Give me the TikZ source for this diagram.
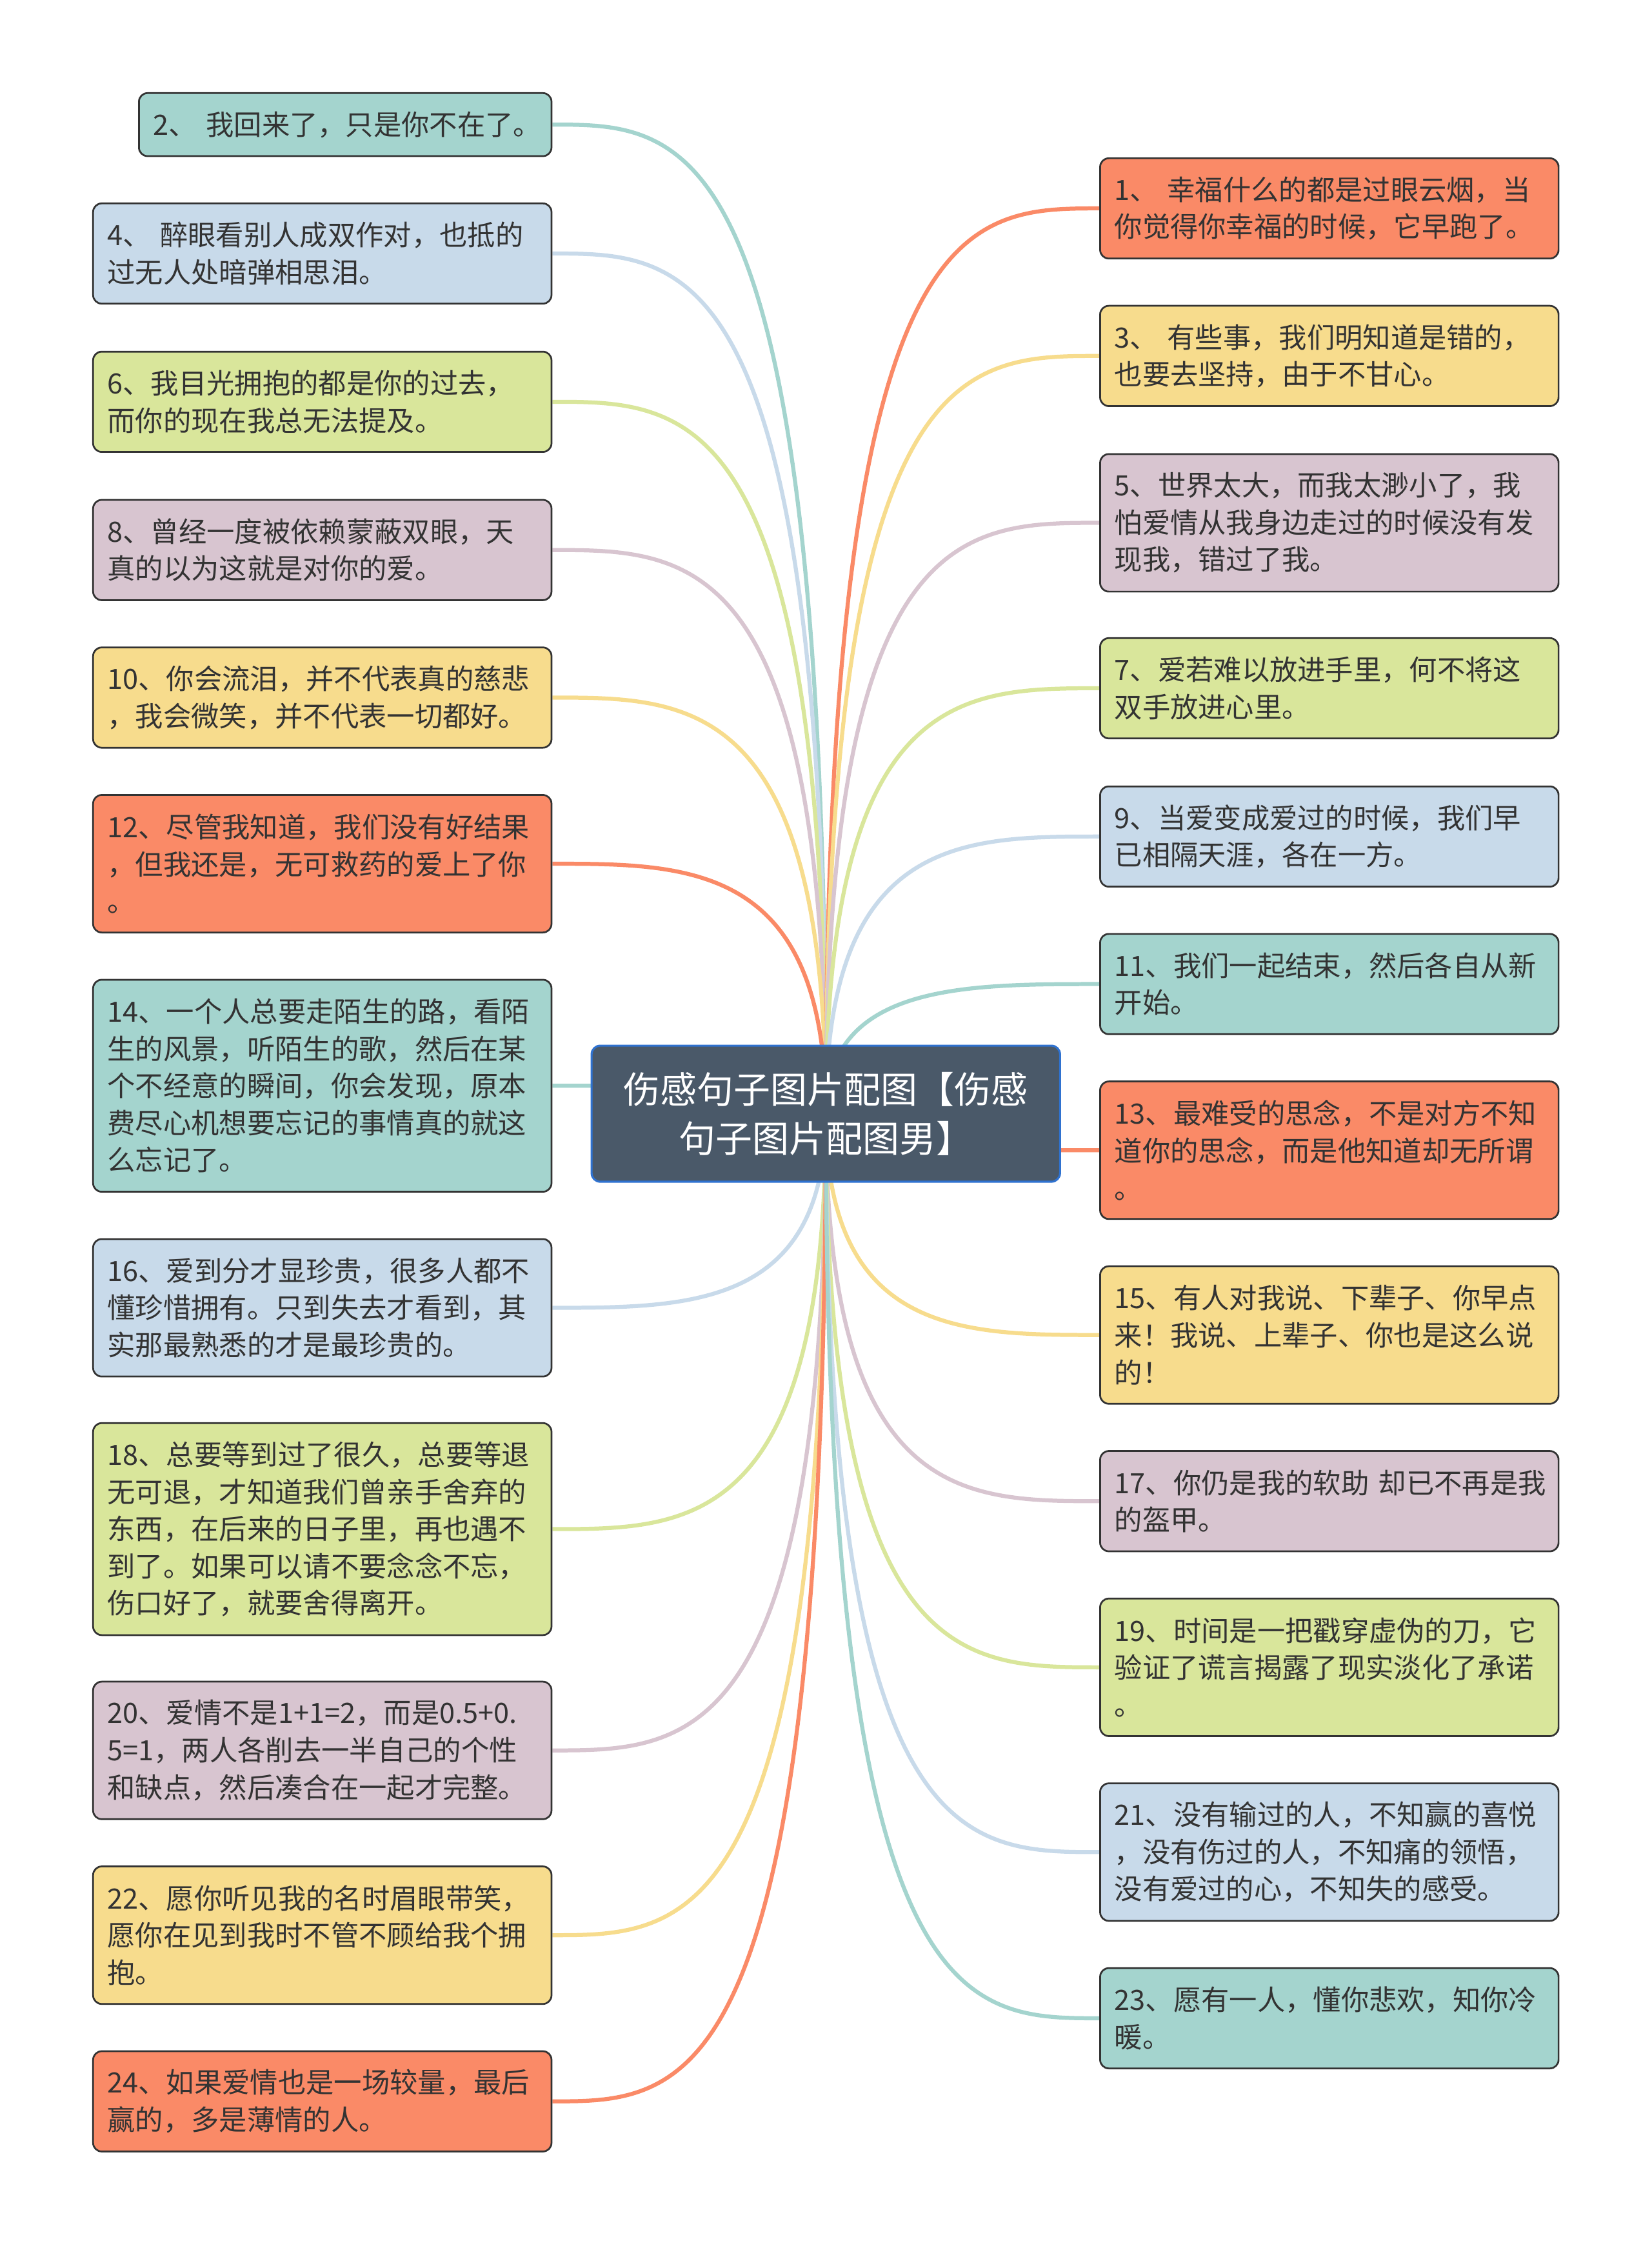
\documentclass[tikz,border=0pt]{standalone}
\usepackage{fontspec}
\setmainfont{Noto Sans CJK SC}
\usepackage{tikz}
\usetikzlibrary{calc,backgrounds}
\usepackage{xcolor}
\definecolor{mapteal}{HTML}{A4D4CE}
\definecolor{mapblue}{HTML}{C8DAEA}
\definecolor{mapgreen}{HTML}{D9E69B}
\definecolor{mapmauve}{HTML}{D8C5D0}
\definecolor{mapyellow}{HTML}{F7DC8D}
\definecolor{mapsalmon}{HTML}{FA8A67}
\definecolor{mapslate}{HTML}{4A5969}
\definecolor{mapframe}{HTML}{2F72D0}
\definecolor{mapink}{HTML}{333333}

\begin{document}
\begin{tikzpicture}[
  title/.style={rectangle, rounded corners=0.12cm, draw=mapframe, fill=mapslate,
                line width=0.8pt, minimum width=6.54cm, minimum height=1.9cm,
                align=center, text=white, font=\fontsize{14.6}{19.4}\selectfont},
  leaf/.style={rectangle, rounded corners=0.12cm, draw=mapink, line width=0.7pt,
               text width=6.0cm, inner xsep=0.2cm, inner ysep=0.1cm, align=left,
               text=mapink, font=\fontsize{11.1}{14.75}\selectfont},
  one/.style={minimum height=0.88cm},
  two/.style={minimum height=1.40cm},
  three/.style={minimum height=1.92cm},
  five/.style={minimum height=2.96cm},
  branch/.style={line width=1.6pt,
    to path={.. controls (\tikztostart |- \tikztotarget)
             and ($(\tikztostart |- \tikztotarget)!0.5!(\tikztotarget)$) .. (\tikztotarget)}}
]
\useasboundingbox (0,0) rectangle (23.06,-31.36);

% centre
\node[title] (root) at (11.53,-15.55) {伤感句子图片配图【伤感\\句子图片配图男】};

% left column
\node[leaf, one, fill=mapteal, text width=5.36cm] (q2) at (4.82,-1.74) {2、~我回来了，只是你不在了。};
\node[leaf, two, fill=mapblue] (q4) at (4.5,-3.54) {4、~醉眼看别人成双作对，也抵的\\过无人处暗弹相思泪。};
\node[leaf, two, fill=mapgreen] (q6) at (4.5,-5.61) {6、我目光拥抱的都是你的过去，\\而你的现在我总无法提及。};
\node[leaf, two, fill=mapmauve] (q8) at (4.5,-7.68) {8、曾经一度被依赖蒙蔽双眼，天\\真的以为这就是对你的爱。};
\node[leaf, two, fill=mapyellow] (q10) at (4.5,-9.74) {10、你会流泪，并不代表真的慈悲\\，我会微笑，并不代表一切都好。};
\node[leaf, three, fill=mapsalmon] (q12) at (4.5,-12.06) {12、尽管我知道，我们没有好结果\\，但我还是，无可救药的爱上了你\\。};
\node[leaf, five, fill=mapteal] (q14) at (4.5,-15.16) {14、一个人总要走陌生的路，看陌\\生的风景，听陌生的歌，然后在某\\个不经意的瞬间，你会发现，原本\\费尽心机想要忘记的事情真的就这\\么忘记了。};
\node[leaf, three, fill=mapblue] (q16) at (4.5,-18.26) {16、爱到分才显珍贵，很多人都不\\懂珍惜拥有。只到失去才看到，其\\实那最熟悉的才是最珍贵的。};
\node[leaf, five, fill=mapgreen] (q18) at (4.5,-21.35) {18、总要等到过了很久，总要等退\\无可退，才知道我们曾亲手舍弃的\\东西，在后来的日子里，再也遇不\\到了。如果可以请不要念念不忘，\\伤口好了，就要舍得离开。};
\node[leaf, three, fill=mapmauve] (q20) at (4.5,-24.44) {20、爱情不是1+1=2，而是0.5+0.\\5=1，两人各削去一半自己的个性\\和缺点，然后凑合在一起才完整。};
\node[leaf, three, fill=mapyellow] (q22) at (4.5,-27.02) {22、愿你听见我的名时眉眼带笑，\\愿你在见到我时不管不顾给我个拥\\抱。};
\node[leaf, two, fill=mapsalmon] (q24) at (4.5,-29.34) {24、如果爱情也是一场较量，最后\\赢的，多是薄情的人。};

% right column
\node[leaf, two, fill=mapsalmon] (q1) at (18.56,-2.91) {1、~幸福什么的都是过眼云烟，当\\你觉得你幸福的时候，它早跑了。};
\node[leaf, two, fill=mapyellow] (q3) at (18.56,-4.97) {3、~有些事，我们明知道是错的，\\也要去坚持，由于不甘心。};
\node[leaf, three, fill=mapmauve] (q5) at (18.56,-7.30) {5、世界太大，而我太渺小了，我\\怕爱情从我身边走过的时候没有发\\现我，错过了我。};
\node[leaf, two, fill=mapgreen] (q7) at (18.56,-9.61) {7、爱若难以放进手里，何不将这\\双手放进心里。};
\node[leaf, two, fill=mapblue] (q9) at (18.56,-11.68) {9、当爱变成爱过的时候，我们早\\已相隔天涯，各在一方。};
\node[leaf, two, fill=mapteal] (q11) at (18.56,-13.74) {11、我们一起结束，然后各自从新\\开始。};
\node[leaf, three, fill=mapsalmon] (q13) at (18.56,-16.06) {13、最难受的思念，不是对方不知\\道你的思念，而是他知道却无所谓\\。};
\node[leaf, three, fill=mapyellow] (q15) at (18.56,-18.64) {15、有人对我说、下辈子、你早点\\来！我说、上辈子、你也是这么说\\的！};
\node[leaf, two, fill=mapmauve] (q17) at (18.56,-20.96) {17、你仍是我的软助~却已不再是我\\的盔甲。};
\node[leaf, three, fill=mapgreen] (q19) at (18.56,-23.28) {19、时间是一把戳穿虚伪的刀，它\\验证了谎言揭露了现实淡化了承诺\\。};
\node[leaf, three, fill=mapblue] (q21) at (18.56,-25.86) {21、没有输过的人，不知赢的喜悦\\，没有伤过的人，不知痛的领悟，\\没有爱过的心，不知失的感受。};
\node[leaf, two, fill=mapteal] (q23) at (18.56,-28.18) {23、愿有一人，懂你悲欢，知你冷\\暖。};

% branches
\begin{scope}[on background layer]
\draw[branch, mapteal] (root.center) to (q2.east);
\draw[branch, mapblue] (root.center) to (q4.east);
\draw[branch, mapgreen] (root.center) to (q6.east);
\draw[branch, mapmauve] (root.center) to (q8.east);
\draw[branch, mapyellow] (root.center) to (q10.east);
\draw[branch, mapsalmon] (root.center) to (q12.east);
\draw[branch, mapteal] (root.center) to (q14.east);
\draw[branch, mapblue] (root.center) to (q16.east);
\draw[branch, mapgreen] (root.center) to (q18.east);
\draw[branch, mapmauve] (root.center) to (q20.east);
\draw[branch, mapyellow] (root.center) to (q22.east);
\draw[branch, mapsalmon] (root.center) to (q24.east);
\draw[branch, mapsalmon] (root.center) to (q1.west);
\draw[branch, mapyellow] (root.center) to (q3.west);
\draw[branch, mapmauve] (root.center) to (q5.west);
\draw[branch, mapgreen] (root.center) to (q7.west);
\draw[branch, mapblue] (root.center) to (q9.west);
\draw[branch, mapteal] (root.center) to (q11.west);
\draw[branch, mapsalmon] (root.center) to (q13.west);
\draw[branch, mapyellow] (root.center) to (q15.west);
\draw[branch, mapmauve] (root.center) to (q17.west);
\draw[branch, mapgreen] (root.center) to (q19.west);
\draw[branch, mapblue] (root.center) to (q21.west);
\draw[branch, mapteal] (root.center) to (q23.west);
\end{scope}
\end{tikzpicture}
\end{document}
